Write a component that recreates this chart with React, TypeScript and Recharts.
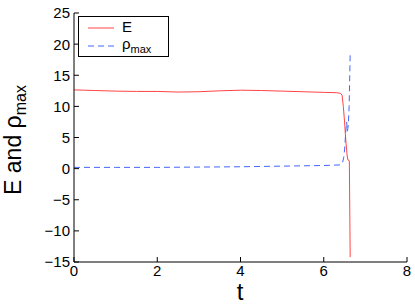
import React from "react";
import { LineChart, Line, XAxis, YAxis } from "recharts";

const eTimes = [0, 0.25, 0.5, 1, 1.5, 2, 2.5, 3, 3.5, 4, 4.5, 5, 5.5, 6, 6.3, 6.4, 6.44, 6.47, 6.5, 6.53, 6.56, 6.58, 6.61, 6.615, 6.635];
const eValues = [12.65, 12.6, 12.55, 12.45, 12.4, 12.4, 12.3, 12.35, 12.5, 12.6, 12.55, 12.45, 12.35, 12.25, 12.2, 12.1, 11.8, 10, 7.5, 4.5, 2.2, 1.4, 1.3, 1.2, -14.2];

const rhoTimes = [0, 1, 2, 3, 4, 5, 6, 6.4, 6.45, 6.48, 6.5, 6.53, 6.55, 6.57, 6.59, 6.61, 6.635];
const rhoValues = [0.2, 0.2, 0.2, 0.25, 0.3, 0.4, 0.5, 0.6, 0.9, 1.8, 3, 6, 7.5, 6, 7, 10, 18.5];

const xTicks = [0, 2, 4, 6, 8];
const yTicks = [-15, -10, -5, 0, 5, 10, 15, 20, 25];

const eData = eTimes.map((t, i) => ({ t, E: eValues[i] }));
const rhoData = rhoTimes.map((t, i) => ({ t, rho: rhoValues[i] }));

const FONT = "'Liberation Sans', Arial, Helvetica, sans-serif";
const fmt = (v: number) => String(v).replace("-", "\u2212");

const BottomTick = (props: any) => {
  const { x, y, payload } = props;
  return (
    <g>
      <line x1={x} y1={y} x2={x} y2={y - 5} stroke="#000" strokeWidth={1} />
      <text x={x} y={y + 3} dy="0.75em" textAnchor="middle" fontSize={15} fontFamily={FONT} fill="#000">
        {fmt(payload.value)}
      </text>
    </g>
  );
};
const TopTick = (props: any) => {
  const { x, y } = props;
  return <line x1={x} y1={y} x2={x} y2={y + 5} stroke="#000" strokeWidth={1} />;
};
const LeftTick = (props: any) => {
  const { x, y, payload } = props;
  return (
    <g>
      <line x1={x} y1={y} x2={x + 5} y2={y} stroke="#000" strokeWidth={1} />
      <text x={x - 4} y={y} dy="0.36em" textAnchor="end" fontSize={15} fontFamily={FONT} fill="#000">
        {fmt(payload.value)}
      </text>
    </g>
  );
};
const RightTick = (props: any) => {
  const { x, y } = props;
  return <line x1={x} y1={y} x2={x - 5} y2={y} stroke="#000" strokeWidth={1} />;
};

const LegendBox = () => (
  <div
    style={{
      position: "absolute",
      left: 78,
      top: 16,
      width: 91,
      height: 41,
      border: "1px solid #000",
      background: "#fff",
      fontFamily: FONT,
      boxSizing: "border-box",
    }}
  >
    <svg width={40} height={40} style={{ position: "absolute", left: 0, top: 0 }}>
      <line x1={9} y1={11} x2={35} y2={11} stroke="#ff4444" strokeWidth={1} />
      <line x1={9} y1={29} x2={35} y2={29} stroke="#4466ff" strokeWidth={1} strokeDasharray="6 4" />
    </svg>
    <div style={{ position: "absolute", left: 43, top: 1, fontSize: 15, lineHeight: "18px" }}>E</div>
    <div style={{ position: "absolute", left: 43, top: 18, fontSize: 15, lineHeight: "18px" }}>
      ρ<sub style={{ fontSize: 11, verticalAlign: "-4px", lineHeight: "11px" }}>max</sub>
    </div>
  </div>
);

export default function App() {
  return (
    <div style={{ position: "absolute", left: 0, top: 0, width: 415, height: 307, background: "#fff" }}>
      <LineChart width={415} height={307} margin={{ top: 13, right: 8, bottom: 0, left: 0 }}>
        <XAxis
          xAxisId="b"
          dataKey="t"
          type="number"
          domain={[0, 8]}
          ticks={xTicks}
          orientation="bottom"
          height={45}
          tickSize={0}
          tickMargin={0}
          tick={<BottomTick />}
          axisLine={{ stroke: "#000" }}
          allowDataOverflow
        />
        <XAxis
          xAxisId="top"
          dataKey="t"
          type="number"
          domain={[0, 8]}
          ticks={xTicks}
          orientation="top"
          height={0}
          tickSize={0}
          tickMargin={0}
          tick={<TopTick />}
          axisLine={{ stroke: "#000" }}
          allowDataOverflow
        />
        <YAxis
          yAxisId="l"
          type="number"
          domain={[-15, 25]}
          ticks={yTicks}
          orientation="left"
          width={74}
          tickSize={0}
          tickMargin={0}
          tick={<LeftTick />}
          axisLine={{ stroke: "#000" }}
          allowDataOverflow
        />
        <YAxis
          yAxisId="r"
          type="number"
          domain={[-15, 25]}
          ticks={yTicks}
          orientation="right"
          width={0}
          tickSize={0}
          tickMargin={0}
          tick={<RightTick />}
          axisLine={{ stroke: "#000" }}
          allowDataOverflow
        />
        <Line
          xAxisId="b"
          yAxisId="l"
          data={eData}
          dataKey="E"
          name="E"
          type="linear"
          stroke="#ff4444"
          strokeWidth={1}
          dot={false}
          isAnimationActive={false}
        />
        <Line
          xAxisId="b"
          yAxisId="l"
          data={rhoData}
          dataKey="rho"
          name="ρmax"
          type="linear"
          stroke="#4466ff"
          strokeWidth={1}
          strokeDasharray="6 4"
          dot={false}
          isAnimationActive={false}
        />
      </LineChart>
      <LegendBox />
      <div
        style={{
          position: "absolute",
          left: 240,
          top: 284,
          transform: "translateX(-50%)",
          fontFamily: FONT,
          fontSize: 24,
          lineHeight: "16px",
        }}
      >
        t
      </div>
      <div
        style={{
          position: "absolute",
          left: 17,
          top: 140,
          transform: "translate(-50%, -50%) rotate(-90deg)",
          fontFamily: FONT,
          fontSize: 23,
          lineHeight: "28px",
          whiteSpace: "nowrap",
        }}
      >
        E and ρ<sub style={{ fontSize: 16, verticalAlign: "-5px" }}>max</sub>
      </div>
    </div>
  );
}
